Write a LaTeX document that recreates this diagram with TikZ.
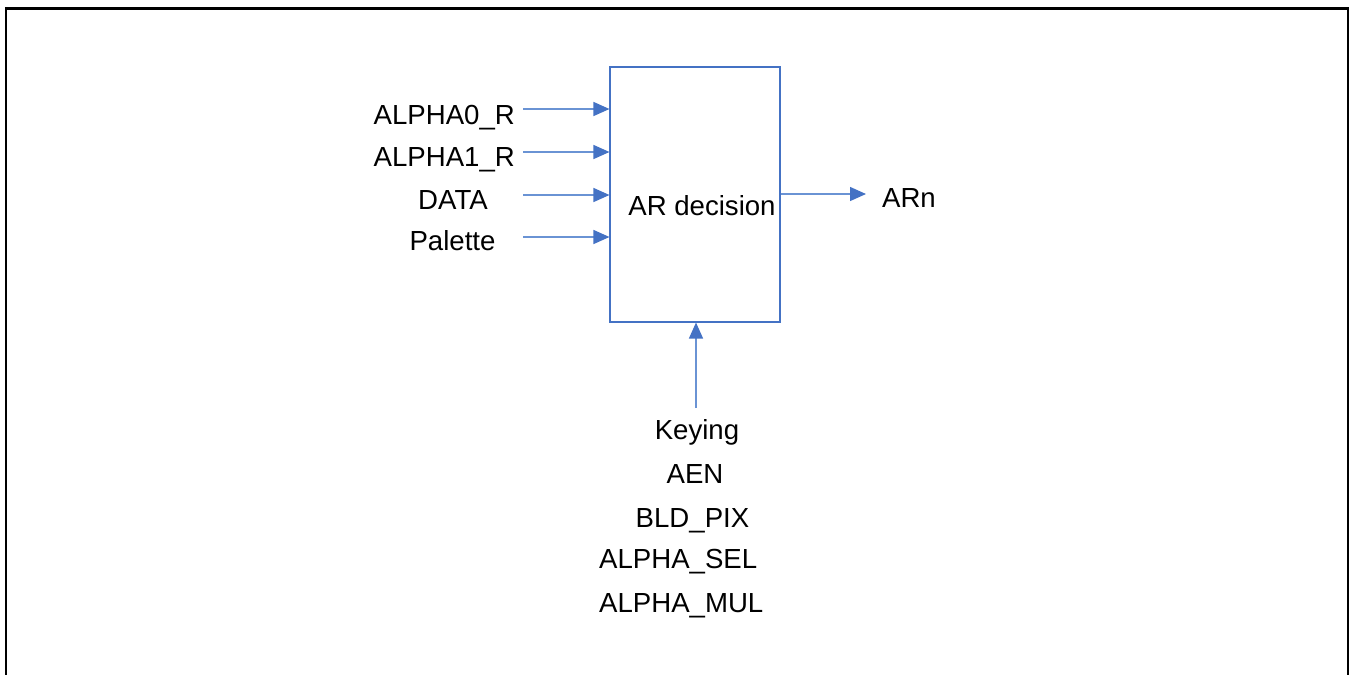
\documentclass[tikz,border=0pt]{standalone}
\usepackage{fontspec}
\setmainfont{Liberation Sans}
\usepackage{xcolor}
\usetikzlibrary{arrows.meta}

\definecolor{arblue}{HTML}{4472C4}
\definecolor{arline}{HTML}{6A93D4}

\tikzset{
  blk/.style={rectangle, draw=arblue, line width=1.1pt, minimum width=170pt, minimum height=255pt, inner sep=0pt},
  sig/.style={draw=arline, line width=1.4pt, -{Triangle[length=16pt,width=14pt,fill=arblue,color=arblue]}},
  lbl/.style={inner sep=0pt, font=\fontsize{27.6pt}{31pt}\selectfont}
}

\begin{document}
\begin{tikzpicture}[x=1pt, y=-1pt]
\useasboundingbox (0,0) rectangle (1353,675);
% frame
\draw[line width=2.4pt] (6,690) -- (6,8.3) -- (1348,8.3) -- (1348,690);

% block
\node[blk] (ar) at (695,194.5) {};
\node[lbl, anchor=base] (artxt) at (702,215) {AR decision};

% inputs
\node[lbl, anchor=base east] (a0) at (515,124) {ALPHA0\_R};
\node[lbl, anchor=base east] (a1) at (515,166.5) {ALPHA1\_R};
\node[lbl, anchor=base] (dat) at (453,209) {DATA};
\node[lbl, anchor=base] (pal) at (452.5,250.5) {Palette};
\coordinate (i0) at (523,109);
\coordinate (i1) at (523,152);
\coordinate (i2) at (523,195);
\coordinate (i3) at (523,237);
\foreach \c in {i0,i1,i2,i3}
  \draw[sig] (\c) -- (\c -| ar.west);

% output
\coordinate (o) at (866,194);
\draw[sig] (ar.east |- o) -- (o);
\node[lbl, anchor=base] (arn) at (909,207) {ARn};

% control
\coordinate (k) at (696,408);
\draw[sig] (k) -- (k |- ar.south);
\node[lbl, anchor=base] (key) at (697,439) {Keying};
\node[lbl, anchor=base] (aen) at (695,483) {AEN};
\node[lbl, anchor=base] (bld) at (692.5,527) {BLD\_PIX};
\node[lbl, anchor=base west] (sel) at (599,568) {ALPHA\_SEL};
\node[lbl, anchor=base west] (mul) at (599,612) {ALPHA\_MUL};
\end{tikzpicture}
\end{document}
